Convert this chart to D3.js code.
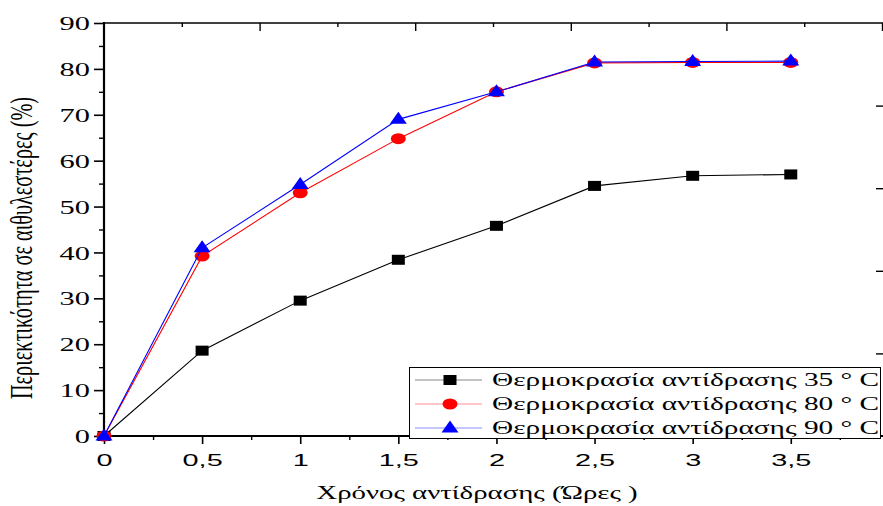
<!DOCTYPE html>
<html>
<head>
<meta charset="utf-8">
<script src="https://cdn.jsdelivr.net/npm/d3@7"></script>
<style>
  body { margin: 0; background: #fff; }
  svg { display: block; }
</style>
</head>
<body>
<div id="chart"></div>
<script>
// reaction time (hours)
var times = [0, 0.5, 1, 1.5, 2, 2.5, 3, 3.5];
// ethyl ester content (%) per temperature
var t35 = [0, 18.6, 29.5, 38.4, 45.8, 54.5, 56.7, 57.0];
var t80 = [0, 39.2, 53.0, 64.8, 75.0, 81.3, 81.4, 81.4];
var t90 = [0, 41.0, 54.8, 69.0, 75.0, 81.5, 81.6, 81.7];

var seriesNames = ["Θερμοκρασία αντίδρασης 35 ° C", "Θερμοκρασία αντίδρασης 80 ° C", "Θερμοκρασία αντίδρασης 90 ° C"];
var seriesColors = ["#000000", "#ff0000", "#0000ff"];
var legendColors = ["#888888", "#ff9090", "#8c8cff"];
var seriesSymbols = ["square", "circle", "triangle"];

var xTicks = [0, 0.5, 1, 1.5, 2, 2.5, 3, 3.5];
var xMinor = [0.25, 0.75, 1.25, 1.75, 2.25, 2.75, 3.25, 3.75];
var yTicks = [0, 10, 20, 30, 40, 50, 60, 70, 80, 90];
var yMinor = [5, 15, 25, 35, 45, 55, 65, 75, 85];

var W = 883, H = 506;
var mLeft = 104, mTop = 23, mBottom = 436, mRight = 883;
var SX = 1.56;   // the original picture is stretched horizontally (serif text)
var SXL = 1.63;  // legend text
var SXS = 1.75;  // sans tick labels

var serif = "'Liberation Serif', 'Times New Roman', serif";
var sans = "'Liberation Sans', Arial, sans-serif";

var x = d3.scaleLinear().domain([0, 3.97]).range([mLeft, mRight]);
var y = d3.scaleLinear().domain([0, 90]).range([mBottom, mTop]);
var xTop = d3.scaleLinear().domain([0, 10]).range([mLeft, 882]);
var yRight = d3.scaleLinear().domain([0, 5]).range([mBottom, mTop]);

var svg = d3.select("#chart").append("svg")
    .attr("width", W)
    .attr("height", H);

svg.append("rect").attr("width", W).attr("height", H).attr("fill", "#fff");

// left axis
var gy = svg.append("g").attr("transform", "translate(" + mLeft + ",0)");
gy.call(d3.axisLeft(y).tickValues(yTicks).tickSize(10).tickFormat(d3.format("d")));
gy.select(".domain").remove();
gy.selectAll(".tick line").attr("stroke", "#000").attr("stroke-width", 1.6);
gy.selectAll(".tick text")
    .attr("x", -14 / SX)
    .attr("dy", "0.34em")
    .attr("transform", "scale(" + SX + ",1)")
    .attr("font-family", serif)
    .attr("font-size", 19.5)
    .attr("fill", "#000");
var gyMinor = svg.append("g").attr("transform", "translate(" + mLeft + ",0)");
gyMinor.call(d3.axisLeft(y).tickValues(yMinor).tickSize(5).tickFormat(""));
gyMinor.select(".domain").remove();
gyMinor.selectAll(".tick line").attr("stroke", "#000").attr("stroke-width", 1.4);

// bottom axis
var gx = svg.append("g").attr("transform", "translate(0," + mBottom + ")");
gx.call(d3.axisBottom(x).tickValues(xTicks).tickSize(8)
    .tickFormat(function (d) { return String(d).replace(".", ","); }));
gx.select(".domain").remove();
gx.selectAll(".tick line").attr("stroke", "#000").attr("stroke-width", 1.6);
gx.selectAll(".tick text")
    .attr("y", 30)
    .attr("dy", 0)
    .attr("transform", "scale(" + SXS + ",1)")
    .attr("font-family", sans)
    .attr("font-size", 16.5)
    .attr("fill", "#000");
var gxMinor = svg.append("g").attr("transform", "translate(0," + mBottom + ")");
gxMinor.call(d3.axisBottom(x).tickValues(xMinor).tickSize(4).tickFormat(""));
gxMinor.select(".domain").remove();
gxMinor.selectAll(".tick line").attr("stroke", "#000").attr("stroke-width", 1.4);

// top axis (ticks inward)
var gt = svg.append("g").attr("transform", "translate(0," + mTop + ")");
gt.call(d3.axisTop(xTop).tickValues(d3.range(1, 11)).tickSize(0).tickFormat(""));
gt.select(".domain").remove();
gt.selectAll(".tick line")
    .attr("y2", function (d) { return d % 2 === 0 ? 8 : 4; })
    .attr("stroke", "#000").attr("stroke-width", 1.4);

// right axis (ticks inward)
var gr = svg.append("g").attr("transform", "translate(883,0)");
gr.call(d3.axisRight(yRight).tickValues([1, 2, 3, 4]).tickSize(-7).tickFormat(""));
gr.select(".domain").remove();
gr.selectAll(".tick line").attr("stroke", "#000").attr("stroke-width", 1.4);

// axis lines
svg.append("line").attr("x1", mLeft).attr("x2", mLeft).attr("y1", mTop - 1).attr("y2", mBottom + 1)
    .attr("stroke", "#000").attr("stroke-width", 2.2);
svg.append("line").attr("x1", mLeft - 1).attr("x2", mRight).attr("y1", mBottom).attr("y2", mBottom)
    .attr("stroke", "#000").attr("stroke-width", 2);
svg.append("line").attr("x1", mLeft - 1).attr("x2", mRight).attr("y1", mTop).attr("y2", mTop)
    .attr("stroke", "#000").attr("stroke-width", 1.4);

// markers
function drawSymbol(g, kind, color, cx, cy) {
    if (kind === "square") {
        g.append("rect").attr("x", cx - 6.5).attr("y", cy - 5).attr("width", 13).attr("height", 10).attr("fill", color);
    } else if (kind === "circle") {
        g.append("ellipse").attr("cx", cx).attr("cy", cy).attr("rx", 7.5).attr("ry", 5.5).attr("fill", color);
    } else {
        g.append("path")
            .attr("d", "M" + cx + "," + (cy - 7.5) + "L" + (cx + 8.5) + "," + (cy + 4.5) + "L" + (cx - 8.5) + "," + (cy + 4.5) + "Z")
            .attr("fill", color);
    }
}

var allSeries = [t35, t80, t90];
var line = d3.line().x(function (d) { return x(d[0]); }).y(function (d) { return y(d[1]); });

allSeries.forEach(function (vals, si) {
    var pts = times.map(function (t, i) { return [t, vals[i]]; });
    var g = svg.append("g");
    g.append("path").datum(pts).attr("d", line)
        .attr("fill", "none").attr("stroke", seriesColors[si]).attr("stroke-width", 1.1);
    pts.forEach(function (p) { drawSymbol(g, seriesSymbols[si], seriesColors[si], x(p[0]), y(p[1])); });
});

// legend
var lg = svg.append("g");
lg.append("rect").attr("x", 409.5).attr("y", 367.5).attr("width", 471).attr("height", 71)
    .attr("fill", "#fff").attr("stroke", "#000").attr("stroke-width", 1);
seriesNames.forEach(function (name, i) {
    var cy = 380 + i * 24;
    lg.append("line").attr("x1", 415).attr("x2", 482).attr("y1", cy).attr("y2", cy)
        .attr("stroke", legendColors[i]).attr("stroke-width", 1.2);
    drawSymbol(lg, seriesSymbols[i], seriesColors[i], 450, cy);
    lg.append("text")
        .attr("transform", "translate(492," + (cy + 6) + ") scale(" + SXL + ",1)")
        .attr("font-family", serif).attr("font-size", 18).attr("fill", "#000")
        .text(name);
});

// axis titles
svg.append("text")
    .attr("transform", "translate(477,499) scale(" + SX + ",1)")
    .attr("text-anchor", "middle")
    .attr("font-family", serif).attr("font-size", 18.5).attr("fill", "#000")
    .text("Χρόνος αντίδρασης (Ώρες )");

svg.append("text")
    .attr("transform", "translate(32,248) scale(" + SX + ",1) rotate(-90)")
    .attr("text-anchor", "middle")
    .attr("font-family", serif).attr("font-size", 20.3).attr("fill", "#000")
    .text("Περιεκτικότητα σε αιθυλεστέρες (%)");
</script>
</body>
</html>
